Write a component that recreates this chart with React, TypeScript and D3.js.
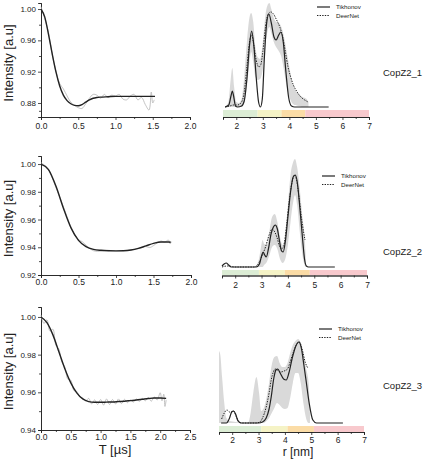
import React, { useEffect, useRef } from 'react';
import * as d3 from 'd3';

const FONT = "'Liberation Sans', Arial, sans-serif";

// ---- time traces, T in µs ----
const traceT1 = [0, 0.05, 0.1, 0.15, 0.2, 0.25, 0.3, 0.35, 0.4, 0.45, 0.5, 0.55, 0.6, 0.65, 0.7, 0.75, 0.8, 0.85, 0.9, 0.95, 1.0, 1.05, 1.1, 1.15, 1.2, 1.25, 1.3, 1.35, 1.4, 1.45, 1.48, 1.5, 1.52];
const traceV1 = [1.003, 0.988, 0.970, 0.942, 0.921, 0.905, 0.898, 0.889, 0.881, 0.877, 0.874, 0.873, 0.879, 0.886, 0.891, 0.890, 0.886, 0.891, 0.887, 0.890, 0.889, 0.891, 0.885, 0.884, 0.889, 0.891, 0.884, 0.887, 0.878, 0.871, 0.894, 0.880, 0.884];
const fitT1 = [0, 0.05, 0.1, 0.15, 0.2, 0.25, 0.3, 0.35, 0.4, 0.45, 0.5, 0.55, 0.6, 0.65, 0.7, 0.75, 0.8, 0.9, 1.0, 1.2, 1.4, 1.53];
const fitV1 = [1.0, 0.99, 0.968, 0.943, 0.92, 0.902, 0.89, 0.883, 0.879, 0.877, 0.8765, 0.878, 0.881, 0.884, 0.886, 0.887, 0.8875, 0.888, 0.8885, 0.8885, 0.8885, 0.8885];

const traceT2 = [0, 0.05, 0.1, 0.2, 0.3, 0.4, 0.45, 0.5, 0.55, 0.6, 0.7, 0.8, 0.9, 1.0, 1.1, 1.2, 1.3, 1.4, 1.45, 1.5, 1.55, 1.6, 1.65, 1.7, 1.72, 1.74];
const traceV2 = [1.001, 0.999, 0.996, 0.983, 0.969, 0.9545, 0.949, 0.9455, 0.944, 0.9415, 0.9375, 0.9372, 0.9378, 0.9372, 0.9376, 0.9381, 0.9394, 0.9405, 0.9398, 0.9412, 0.9432, 0.9445, 0.9437, 0.9452, 0.9425, 0.944];
const fitT2 = [0, 0.1, 0.2, 0.3, 0.4, 0.5, 0.6, 0.7, 0.8, 0.9, 1.0, 1.1, 1.2, 1.3, 1.4, 1.5, 1.6, 1.7, 1.73];
const fitV2 = [1.0, 0.996, 0.984, 0.968, 0.954, 0.945, 0.9405, 0.9385, 0.9378, 0.9375, 0.9374, 0.9375, 0.938, 0.9392, 0.941, 0.9428, 0.9438, 0.9438, 0.9436];

const traceT3 = [0, 0.05, 0.1, 0.15, 0.2, 0.25, 0.3, 0.35, 0.4, 0.45, 0.5, 0.55, 0.6, 0.65, 0.7, 0.75, 0.8, 0.85, 0.9, 0.95, 1.0, 1.05, 1.1, 1.15, 1.2, 1.25, 1.3, 1.35, 1.4, 1.45, 1.5, 1.55, 1.6, 1.65, 1.7, 1.75, 1.8, 1.85, 1.9, 1.95, 2.0, 2.03, 2.06, 2.08, 2.1];
const traceV3 = [1.001, 0.9965, 0.9985, 0.9925, 0.9935, 0.985, 0.983, 0.976, 0.9735, 0.967, 0.9665, 0.961, 0.9605, 0.9575, 0.957, 0.9555, 0.9568, 0.9538, 0.956, 0.9535, 0.9562, 0.9532, 0.9565, 0.9535, 0.9562, 0.9538, 0.9565, 0.954, 0.9563, 0.9545, 0.956, 0.9548, 0.9565, 0.9552, 0.9568, 0.9555, 0.9572, 0.9553, 0.9575, 0.956, 0.9598, 0.9555, 0.959, 0.9525, 0.956];
const fitT3 = [0, 0.1, 0.2, 0.3, 0.4, 0.5, 0.6, 0.7, 0.8, 0.9, 1.0, 1.1, 1.2, 1.3, 1.4, 1.5, 1.6, 1.7, 1.8, 1.9, 2.0, 2.1];
const fitV3 = [1.0, 0.997, 0.9905, 0.9815, 0.9725, 0.965, 0.9597, 0.9565, 0.9551, 0.9547, 0.9547, 0.9548, 0.9549, 0.9551, 0.9553, 0.9556, 0.9559, 0.9563, 0.9567, 0.957, 0.957, 0.9568];

// ---- distance distributions, [r nm, P(r)] ----
const tikhonov1 = [[1.58, 0], [1.72, 0.02], [1.8, 0.11], [1.85, 0.16], [1.9, 0.11], [1.97, 0.01], [2.05, 0], [2.2, 0.01], [2.3, 0.06], [2.4, 0.28], [2.5, 0.62], [2.58, 0.76], [2.66, 0.62], [2.75, 0.3], [2.84, 0.05], [2.91, 0], [2.98, 0.08], [3.06, 0.5], [3.15, 0.85], [3.23, 0.93], [3.32, 0.84], [3.42, 0.7], [3.5, 0.67], [3.6, 0.72], [3.68, 0.75], [3.77, 0.65], [3.87, 0.35], [3.97, 0.1], [4.08, 0.01], [4.2, 0], [5.48, 0]];
const deernet1 = [[1.58, 0], [1.7, 0.005], [1.9, 0.02], [2.05, 0.02], [2.2, 0.05], [2.3, 0.15], [2.4, 0.4], [2.5, 0.65], [2.58, 0.72], [2.66, 0.62], [2.75, 0.47], [2.85, 0.4], [2.92, 0.42], [3.0, 0.55], [3.1, 0.8], [3.2, 0.93], [3.3, 0.95], [3.4, 0.93], [3.52, 0.87], [3.64, 0.8], [3.75, 0.7], [3.85, 0.55], [3.95, 0.4], [4.05, 0.3], [4.15, 0.22], [4.27, 0.16], [4.4, 0.11], [4.52, 0.08], [4.64, 0.06], [4.7, 0.05]];
const band1 = [[1.6, 0, 0.01], [1.7, 0, 0.05], [1.78, 0, 0.25], [1.85, 0, 0.39], [1.92, 0, 0.2], [2.0, 0, 0.05], [2.1, 0, 0.04], [2.2, 0, 0.08], [2.3, 0.05, 0.3], [2.4, 0.2, 0.65], [2.5, 0.45, 0.9], [2.56, 0.55, 0.94], [2.64, 0.45, 0.85], [2.72, 0.3, 0.6], [2.8, 0.27, 0.5], [2.9, 0.28, 0.48], [3.0, 0.38, 0.65], [3.1, 0.62, 0.92], [3.2, 0.78, 1.03], [3.25, 0.8, 1.04], [3.32, 0.74, 0.98], [3.4, 0.66, 0.9], [3.5, 0.6, 0.85], [3.6, 0.56, 0.84], [3.7, 0.5, 0.8], [3.8, 0.36, 0.7], [3.9, 0.2, 0.55], [4.0, 0.1, 0.4], [4.1, 0.04, 0.25], [4.2, 0.02, 0.18], [4.35, 0.01, 0.13], [4.5, 0, 0.1], [4.65, 0, 0.08], [4.72, 0, 0.05]];

const tikhonov2 = [[1.5, 0.01], [1.58, 0.03], [1.66, 0.04], [1.75, 0.02], [1.85, 0], [2.5, 0], [2.8, 0], [2.92, 0.03], [3.0, 0.11], [3.06, 0.15], [3.12, 0.12], [3.18, 0.1], [3.26, 0.18], [3.36, 0.33], [3.45, 0.4], [3.52, 0.42], [3.6, 0.38], [3.68, 0.26], [3.76, 0.16], [3.82, 0.15], [3.9, 0.25], [4.0, 0.5], [4.1, 0.75], [4.2, 0.9], [4.28, 0.92], [4.36, 0.84], [4.45, 0.6], [4.55, 0.3], [4.63, 0.08], [4.7, 0.01], [4.78, 0], [5.78, 0]];
const deernet2 = [[1.5, 0], [1.7, 0.01], [2.0, 0], [2.7, 0], [2.85, 0.02], [2.95, 0.07], [3.05, 0.13], [3.15, 0.2], [3.25, 0.29], [3.33, 0.35], [3.4, 0.38], [3.48, 0.36], [3.58, 0.3], [3.68, 0.21], [3.75, 0.18], [3.84, 0.21], [3.95, 0.42], [4.05, 0.66], [4.15, 0.84], [4.25, 0.92], [4.32, 0.88], [4.42, 0.7], [4.52, 0.48], [4.6, 0.34], [4.65, 0.27]];
const band2 = [[2.8, 0, 0.01], [2.9, 0, 0.08], [2.98, 0, 0.2], [3.04, 0, 0.27], [3.1, 0.02, 0.23], [3.2, 0.05, 0.22], [3.3, 0.12, 0.36], [3.4, 0.2, 0.5], [3.5, 0.22, 0.53], [3.6, 0.18, 0.45], [3.7, 0.08, 0.3], [3.8, 0.04, 0.22], [3.9, 0.08, 0.32], [4.0, 0.22, 0.62], [4.1, 0.45, 0.92], [4.2, 0.65, 1.05], [4.27, 0.72, 1.08], [4.35, 0.62, 1.0], [4.45, 0.35, 0.78], [4.55, 0.12, 0.5], [4.63, 0.02, 0.32], [4.68, 0, 0.08]];

const tikhonov3 = [[1.58, 0], [1.78, 0], [1.9, 0.05], [1.98, 0.11], [2.05, 0.12], [2.13, 0.09], [2.22, 0.02], [2.34, 0], [3.0, 0], [3.15, 0.01], [3.29, 0.05], [3.4, 0.14], [3.48, 0.26], [3.58, 0.45], [3.66, 0.53], [3.73, 0.54], [3.82, 0.5], [3.95, 0.44], [4.05, 0.43], [4.15, 0.5], [4.27, 0.64], [4.4, 0.76], [4.53, 0.81], [4.63, 0.74], [4.72, 0.58], [4.8, 0.43], [4.92, 0.2], [5.06, 0.03], [5.2, 0], [6.2, 0]];
const deernet3 = [[1.6, 0.04], [1.7, 0.1], [1.8, 0.13], [1.9, 0.11], [1.98, 0.11], [2.05, 0.12], [2.13, 0.08], [2.22, 0.03], [2.35, 0], [2.9, 0], [3.05, 0.01], [3.15, 0.05], [3.29, 0.16], [3.4, 0.3], [3.48, 0.43], [3.56, 0.51], [3.63, 0.54], [3.72, 0.53], [3.84, 0.51], [3.97, 0.52], [4.1, 0.54], [4.22, 0.63], [4.35, 0.73], [4.45, 0.79], [4.55, 0.81], [4.65, 0.74], [4.78, 0.6], [4.87, 0.55]];
const band3 = [[1.5, 0, 0.72], [1.55, 0, 0.68], [1.62, 0, 0.45], [1.7, 0, 0.2], [1.78, 0, 0.05], [1.9, 0, 0.02], [2.6, 0, 0], [2.7, 0, 0.1], [2.8, 0, 0.3], [2.92, 0, 0.46], [3.02, 0, 0.3], [3.1, 0, 0.12], [3.2, 0, 0.15], [3.3, 0.02, 0.25], [3.4, 0.05, 0.4], [3.5, 0.1, 0.58], [3.6, 0.15, 0.66], [3.7, 0.2, 0.67], [3.8, 0.18, 0.6], [3.9, 0.15, 0.56], [4.0, 0.14, 0.56], [4.1, 0.15, 0.6], [4.2, 0.25, 0.7], [4.3, 0.4, 0.78], [4.4, 0.5, 0.82], [4.5, 0.5, 0.84], [4.6, 0.4, 0.8], [4.7, 0.2, 0.7], [4.8, 0.05, 0.55], [4.9, 0, 0.4], [4.95, 0, 0.1]];

// reliability zones (green / yellow / orange / red) along r
const zoneBreaks1 = [1.5, 2.8, 3.7, 4.6, 7];
const zoneBreaks2 = [1.5, 2.9, 3.88, 4.83, 7];
const zoneBreaks3 = [1.5, 3.1, 4.1, 5.1, 7];
const zoneColors = ['#dcedd5', '#f5f3c6', '#fbdca6', '#f8c9cd'];

const sampleNames = ['CopZ2_1', 'CopZ2_2', 'CopZ2_3'];
const legendNames = ['Tikhonov', 'DeerNet'];

const App: React.FC = () => {
  const svgRef = useRef<SVGSVGElement>(null);

  useEffect(() => {
    if (!svgRef.current) return;
    const svg = d3.select(svgRef.current);
    svg.selectAll('*').remove();

    const styleAxis = (g: any, size: number) => {
      g.selectAll('.domain').attr('stroke', '#222').attr('stroke-width', 0.8);
      g.selectAll('.tick line').attr('stroke', '#222').attr('stroke-width', 0.8);
      g.selectAll('text').attr('fill', '#222').attr('font-size', size).attr('font-family', FONT);
    };

    // ---------- left: time traces ----------
    const left = [
      { traceT: traceT1, traceV: traceV1, fitT: fitT1, fitV: fitV1, top: 3, bottom: 117, yDom: [0.8621, 1.0077], yMajor: [0.88, 0.92, 0.96, 1.0], yMinor: [0.87, 0.9, 0.94, 0.98], xMax: 2.0, xRight: 190, pad: 3 },
      { traceT: traceT2, traceV: traceV2, fitT: fitT2, fitV: fitV2, top: 156, bottom: 275, yDom: [0.92, 1.0058], yMajor: [0.92, 0.94, 0.96, 0.98, 1.0], yMinor: [0.93, 0.95, 0.97, 0.99], xMax: 2.0, xRight: 191, pad: 1 },
      { traceT: traceT3, traceV: traceV3, fitT: fitT3, fitV: fitV3, top: 307, bottom: 430, yDom: [0.94, 1.0053], yMajor: [0.94, 0.96, 0.98, 1.0], yMinor: [0.95, 0.97, 0.99], xMax: 2.5, xRight: 190, pad: 0.5 },
    ];

    left.forEach((p) => {
      const x = d3.scaleLinear().domain([0, p.xMax]).range([41, p.xRight]);
      const y = d3.scaleLinear().domain(p.yDom).range([p.bottom, p.top]);
      const g = svg.append('g');

      const xMajor = d3.range(0, p.xMax + 0.001, 0.5);
      const xMinor = d3.range(0.25, p.xMax, 0.5);

      const gyMin = g.append('g').attr('transform', 'translate(41,0)')
        .call(d3.axisLeft(y).tickValues(p.yMinor).tickSize(2).tickFormat(() => ''));
      styleAxis(gyMin, 8);
      const gy = g.append('g').attr('transform', 'translate(41,0)')
        .call(d3.axisLeft(y).tickValues(p.yMajor).tickSize(3).tickPadding(2).tickFormat(d3.format('.2f')));
      styleAxis(gy, 8);

      const gxMin = g.append('g').attr('transform', `translate(0,${p.bottom})`)
        .call(d3.axisBottom(x).tickValues(xMinor).tickSize(2).tickFormat(() => ''));
      styleAxis(gxMin, 8);
      const gx = g.append('g').attr('transform', `translate(0,${p.bottom})`)
        .call(d3.axisBottom(x).tickValues(xMajor).tickSize(3).tickPadding(p.pad).tickFormat(d3.format('.1f')));
      styleAxis(gx, 8.5);

      const trace = p.traceT.map((t, i) => [t, p.traceV[i]] as [number, number]);
      const fit = p.fitT.map((t, i) => [t, p.fitV[i]] as [number, number]);

      g.append('path')
        .datum(trace)
        .attr('fill', 'none')
        .attr('stroke', '#b4b4b4')
        .attr('stroke-width', 0.8)
        .attr('d', d3.line().x(d => x(d[0])).y(d => y(d[1])).curve(d3.curveCatmullRom));

      g.append('path')
        .datum(fit)
        .attr('fill', 'none')
        .attr('stroke', '#222')
        .attr('stroke-width', 1.4)
        .attr('d', d3.line().x(d => x(d[0])).y(d => y(d[1])).curve(d3.curveMonotoneX));

      g.append('text')
        .attr('transform', `translate(13,${(p.top + p.bottom) / 2 + 3}) rotate(-90)`)
        .attr('text-anchor', 'middle')
        .attr('font-family', FONT)
        .attr('font-size', 13)
        .attr('fill', '#222')
        .text('Intensity [a.u]');
    });

    svg.append('text')
      .attr('x', 115).attr('y', 454)
      .attr('text-anchor', 'middle')
      .attr('font-family', FONT).attr('font-size', 13).attr('fill', '#222')
      .text('T [µs]');

    // ---------- right: distance distributions ----------
    const right = [
      { tik: tikhonov1, dn: deernet1, band: band1, zones: zoneBreaks1, x0: 223, x1: 369, base: 107, barTop: 110, axisY: 117, legY: 7, legX: 317, labelY: 76 },
      { tik: tikhonov2, dn: deernet2, band: band2, zones: zoneBreaks2, x0: 222, x1: 367, base: 267, barTop: 270, axisY: 275.5, legY: 176, legX: 322, labelY: 255 },
      { tik: tikhonov3, dn: deernet3, band: band3, zones: zoneBreaks3, x0: 219, x1: 364, base: 423, barTop: 426, axisY: 432, legY: 329, legX: 319, labelY: 389 },
    ];

    right.forEach((p, k) => {
      const x = d3.scaleLinear().domain([1.5, 7]).range([p.x0, p.x1]);
      const y = d3.scaleLinear().domain([0, 1]).range([p.base, p.base - 100]);
      const g = svg.append('g');

      // zone bar
      g.selectAll('.zone')
        .data(d3.pairs(p.zones))
        .enter().append('rect')
        .attr('x', d => x(d[0]))
        .attr('width', d => x(d[1]) - x(d[0]))
        .attr('y', p.barTop)
        .attr('height', p.axisY - p.barTop)
        .attr('fill', (_, i) => zoneColors[i]);

      // uncertainty band
      g.append('path')
        .datum(p.band)
        .attr('fill', '#d9d9d9')
        .attr('d', d3.area<number[]>().x(d => x(d[0])).y0(d => y(d[1])).y1(d => y(d[2])).curve(d3.curveMonotoneX));

      g.append('path')
        .datum(p.dn)
        .attr('fill', 'none')
        .attr('stroke', '#222')
        .attr('stroke-width', 1)
        .attr('stroke-dasharray', '1.4,1.2')
        .attr('d', d3.line<number[]>().x(d => x(d[0])).y(d => y(d[1])).curve(d3.curveMonotoneX));

      g.append('path')
        .datum(p.tik)
        .attr('fill', 'none')
        .attr('stroke', '#222')
        .attr('stroke-width', 1.2)
        .attr('d', d3.line<number[]>().x(d => x(d[0])).y(d => y(d[1])).curve(d3.curveMonotoneX));

      const gxMin = g.append('g').attr('transform', `translate(0,${p.axisY})`)
        .call(d3.axisBottom(x).tickValues(d3.range(1.5, 7, 1)).tickSize(2).tickFormat(() => ''));
      styleAxis(gxMin, 8);
      const gx = g.append('g').attr('transform', `translate(0,${p.axisY})`)
        .call(d3.axisBottom(x).tickValues(d3.range(2, 8, 1)).tickSize(3).tickPadding(k === 2 ? 1.5 : 3).tickFormat(d3.format('d')));
      styleAxis(gx, 8.5);

      // legend
      legendNames.forEach((name, i) => {
        const ly = p.legY + i * 8.5;
        g.append('line')
          .attr('x1', p.legX).attr('x2', p.legX + 13)
          .attr('y1', ly).attr('y2', ly)
          .attr('stroke', '#222')
          .attr('stroke-width', i === 0 ? 1.2 : 1)
          .attr('stroke-dasharray', i === 0 ? null : '1.4,1.2');
        g.append('text')
          .attr('x', p.legX + 19).attr('y', ly + 2.2)
          .attr('font-family', FONT).attr('font-size', 6.2).attr('fill', '#222')
          .text(name);
      });

      svg.append('text')
        .attr('x', 383).attr('y', p.labelY)
        .attr('font-family', FONT).attr('font-size', 9.5).attr('fill', '#222')
        .text(sampleNames[k]);
    });

    svg.append('text')
      .attr('x', 298).attr('y', 456)
      .attr('text-anchor', 'middle')
      .attr('font-family', FONT).attr('font-size', 12).attr('fill', '#222')
      .text('r [nm]');
  }, []);

  return (
    <svg
      ref={svgRef}
      width={424}
      height={460}
      style={{ position: 'absolute', left: 0, top: 0, background: '#fff' }}
    />
  );
};

export default App;
